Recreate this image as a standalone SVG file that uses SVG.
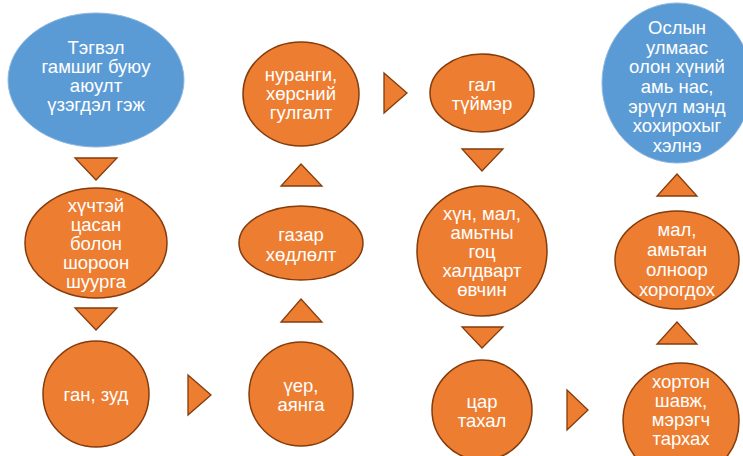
<svg xmlns="http://www.w3.org/2000/svg" width="743" height="456" viewBox="0 0 743 456">
<style>
.o{fill:#ED7D31;stroke:#843C0C;stroke-width:1.5}
.b{fill:#5B9BD5;stroke:#8DB6E0;stroke-width:1}
.t{fill:#ED7D31;stroke:#843C0C;stroke-width:1.3;stroke-linejoin:miter}
text{font-family:"Liberation Sans",Arial,sans-serif;font-size:18.5px;fill:#FFFFFF;text-anchor:middle}
</style>
<rect width="743" height="456" fill="#FFFFFF"/>
<g id="connectors">
<polygon class="t" points="75,158 117,158 96,180"/>
<polygon class="t" points="75,308 117,308 96,330"/>
<polygon class="t" points="188,375 211,395 188,415"/>
<polygon class="t" points="281,322 322,322 301,299"/>
<polygon class="t" points="281,186 322,186 301,164"/>
<polygon class="t" points="384,73 407,93 384,113"/>
<polygon class="t" points="462,149 503,149 482,171"/>
<polygon class="t" points="462,327 503,327 482,348"/>
<polygon class="t" points="567,390 588,410 567,430"/>
<polygon class="t" points="657,344 697,344 677,322"/>
<polygon class="t" points="657,196 697,196 677,174"/>
</g>
<g id="n1">
<ellipse class="b" cx="96" cy="80" rx="88" ry="67"/>
<text x="96" y="54">Тэгвэл</text>
<text x="96" y="73">гамшиг буюу</text>
<text x="96" y="92">аюулт</text>
<text x="96" y="111">үзэгдэл гэж</text>
</g>
<g id="n2">
<ellipse class="o" cx="96" cy="243" rx="71" ry="55"/>
<text x="96" y="212">хүчтэй</text>
<text x="96" y="231">цасан</text>
<text x="96" y="250">болон</text>
<text x="96" y="269">шороон</text>
<text x="96" y="288">шуурга</text>
</g>
<g id="n3">
<circle class="o" cx="96" cy="394" r="53"/>
<text x="96" y="401">ган, зуд</text>
</g>
<g id="n4">
<circle class="o" cx="301" cy="394" r="52"/>
<text x="301" y="392">үер,</text>
<text x="301" y="411">аянга</text>
</g>
<g id="n5">
<ellipse class="o" cx="301" cy="243" rx="62" ry="37"/>
<text x="301" y="241">газар</text>
<text x="301" y="261">хөдлөлт</text>
</g>
<g id="n6">
<ellipse class="o" cx="301" cy="94" rx="58" ry="52"/>
<text x="301" y="81">нуранги,</text>
<text x="301" y="100">хөрсний</text>
<text x="301" y="119">гулгалт</text>
</g>
<g id="n7">
<ellipse class="o" cx="482" cy="93" rx="52" ry="39"/>
<text x="482" y="91">гал</text>
<text x="482" y="110">түймэр</text>
</g>
<g id="n8">
<circle class="o" cx="482" cy="251" r="65"/>
<text x="482" y="220">хүн, мал,</text>
<text x="482" y="239">амьтны</text>
<text x="482" y="258">гоц</text>
<text x="482" y="277">халдварт</text>
<text x="482" y="296">өвчин</text>
</g>
<g id="n9">
<circle class="o" cx="482" cy="410" r="50"/>
<text x="482" y="408">цар</text>
<text x="482" y="427">тахал</text>
</g>
<g id="n10">
<circle class="o" cx="681" cy="421" r="58"/>
<text x="681" y="388">хортон</text>
<text x="681" y="407">шавж,</text>
<text x="681" y="426">мэрэгч</text>
<text x="681" y="445">тархах</text>
</g>
<g id="n11">
<ellipse class="o" cx="677" cy="260" rx="62" ry="49"/>
<text x="677" y="236">мал,</text>
<text x="677" y="256">амьтан</text>
<text x="677" y="276">олноор</text>
<text x="677" y="296">хорогдох</text>
</g>
<g id="n12">
<ellipse class="b" cx="677" cy="83" rx="75" ry="80"/>
<text x="677" y="34">Ослын</text>
<text x="677" y="54">улмаас</text>
<text x="677" y="73">олон хүний</text>
<text x="677" y="93">амь нас,</text>
<text x="677" y="113">эрүүл мэнд</text>
<text x="677" y="132">хохирохыг</text>
<text x="677" y="152">хэлнэ</text>
</g>
</svg>
